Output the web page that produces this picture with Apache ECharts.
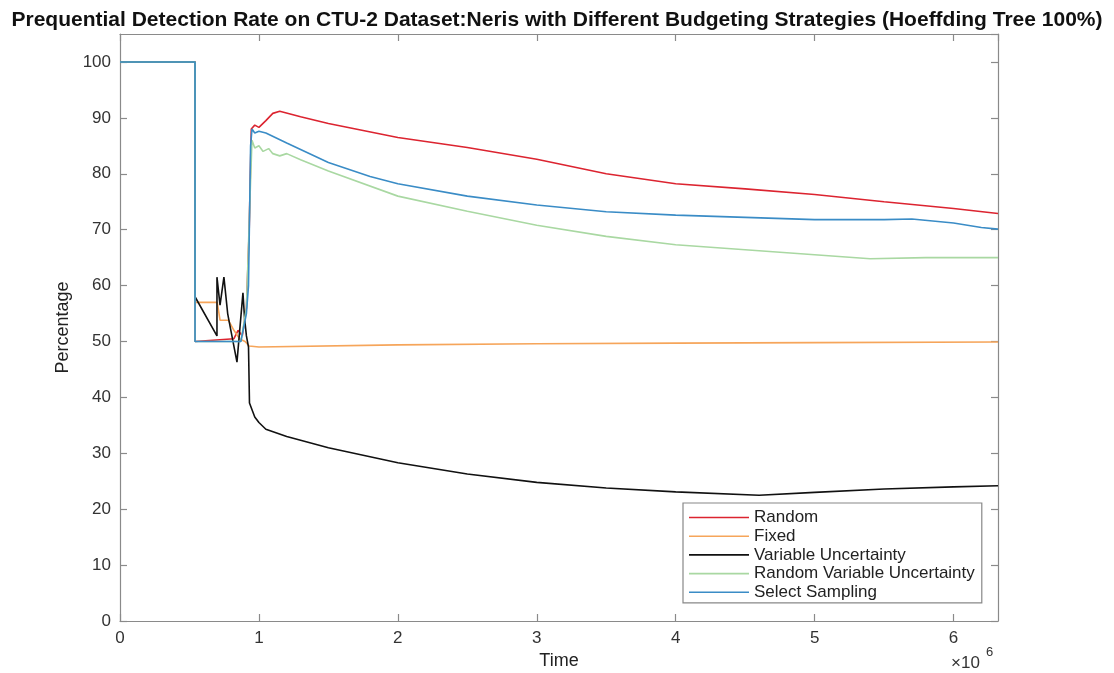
<!DOCTYPE html>
<html>
<head>
<meta charset="utf-8">
<script src="https://cdn.jsdelivr.net/npm/echarts@6/dist/echarts.min.js"></script>
<style>
  html, body { margin: 0; padding: 0; background: #fff; }
  #chart { width: 1114px; height: 673px; }
</style>
</head>
<body>
<div id="chart"></div>
<script>
// Time values are in millions of samples; rates are percentages.
const TIME_UNIT = 1e6;
const TIME_MAX = 6.32;

const seriesNames = ['Random', 'Fixed', 'Variable Uncertainty', 'Random Variable Uncertainty', 'Select Sampling'];

const randomPts = [
  [0, 100], [0.54, 100], [0.54, 50], [0.82, 50.5], [0.85, 52], [0.88, 51], [0.91, 56],
  [0.93, 70], [0.945, 88], [0.97, 88.7], [1.0, 88.3], [1.05, 89.5], [1.1, 90.8],
  [1.15, 91.2], [1.3, 90.2], [1.5, 89], [2.0, 86.5], [2.5, 84.7], [3.0, 82.6],
  [3.5, 80], [4.0, 78.2], [4.5, 77.3], [5.0, 76.3], [5.5, 75], [6.0, 73.8], [6.32, 72.9]
];

const fixedPts = [
  [0, 100], [0.54, 100], [0.54, 57], [0.7, 57], [0.72, 53.8], [0.78, 53.8], [0.82, 52],
  [0.86, 50.5], [0.9, 50], [0.93, 49.2], [1.0, 49.0], [2.0, 49.4], [3.0, 49.6],
  [4.0, 49.7], [5.0, 49.8], [6.32, 49.9]
];

const varUncertaintyPts = [
  [0, 100], [0.54, 100], [0.54, 58], [0.698, 51], [0.698, 61.5], [0.72, 56.5], [0.748, 61.5],
  [0.775, 55], [0.8, 51.7], [0.842, 46.3], [0.885, 58.7], [0.897, 54], [0.91, 51],
  [0.925, 49], [0.932, 39], [0.97, 36.5], [1.0, 35.5], [1.05, 34.3], [1.2, 33],
  [1.5, 31], [2.0, 28.3], [2.5, 26.3], [3.0, 24.8], [3.5, 23.8], [4.0, 23.1],
  [4.6, 22.5], [5.0, 23], [5.5, 23.6], [6.0, 24], [6.32, 24.2]
];

const randomVarUncertaintyPts = [
  [0, 100], [0.54, 100], [0.54, 50], [0.87, 50], [0.91, 56], [0.935, 75], [0.95, 86],
  [0.97, 84.6], [1.0, 85], [1.03, 84], [1.07, 84.5], [1.1, 83.6], [1.15, 83.2],
  [1.2, 83.6], [1.3, 82.5], [1.5, 80.5], [2.0, 76], [2.5, 73.3], [3.0, 70.8],
  [3.5, 68.8], [4.0, 67.3], [4.5, 66.4], [5.0, 65.5], [5.4, 64.8], [5.8, 65], [6.32, 65]
];

const selectSamplingPts = [
  [0, 100], [0.54, 100], [0.54, 50], [0.87, 50], [0.91, 55], [0.925, 60], [0.94, 85],
  [0.95, 88], [0.97, 87.3], [1.0, 87.6], [1.05, 87.3], [1.2, 85.5], [1.5, 82],
  [1.8, 79.5], [2.0, 78.2], [2.5, 76], [3.0, 74.4], [3.5, 73.2], [4.0, 72.6],
  [4.5, 72.2], [5.0, 71.8], [5.5, 71.8], [5.7, 71.9], [6.0, 71.2], [6.2, 70.4], [6.32, 70.1]
];

const seriesPoints = [randomPts, fixedPts, varUncertaintyPts, randomVarUncertaintyPts, selectSamplingPts];
const seriesColors = ['#dc2430', '#f6a55a', '#111111', '#a9d8a2', '#3a8cc6'];

const FONT = '"Liberation Sans", Arial, Helvetica, sans-serif';
const AXIS_COLOR = '#8a8a8a';

const chart = echarts.init(document.getElementById('chart'), null, { renderer: 'canvas' });

function frameAxis(extra) {
  return Object.assign({
    type: 'value',
    axisLine: { show: true, onZero: false, lineStyle: { color: AXIS_COLOR, width: 1.2 } },
    axisTick: { show: true, inside: true, length: 7, lineStyle: { color: AXIS_COLOR, width: 1.2 } },
    splitLine: { show: false }
  }, extra);
}

const option = {
  backgroundColor: '#ffffff',
  animation: false,
  title: {
    text: 'Prequential Detection Rate on CTU-2 Dataset:Neris with Different Budgeting Strategies (Hoeffding Tree 100%)',
    left: 'center',
    top: 5,
    textStyle: { fontFamily: FONT, fontSize: 21, fontWeight: 'bold', color: '#111' }
  },
  grid: { left: 120, right: 116, top: 34, bottom: 52, containLabel: false, outerBoundsMode: 'none' },
  legend: {
    data: seriesNames,
    orient: 'vertical',
    left: 683,
    top: 503,
    padding: [6, 7, 2, 6],
    icon: 'rect',
    itemWidth: 60,
    itemHeight: 1.6,
    itemGap: 1.7,
    borderColor: '#888',
    borderWidth: 1.2,
    backgroundColor: '#fff',
    textStyle: { fontFamily: FONT, fontSize: 17, color: '#222', lineHeight: 16, height: 16 }
  },
  xAxis: [
    frameAxis({
      position: 'bottom',
      min: 0, max: TIME_MAX * TIME_UNIT, interval: TIME_UNIT,
      axisLabel: {
        show: true, margin: 9, showMaxLabel: false,
        fontFamily: FONT, fontSize: 17, color: '#333',
        formatter: v => (v % TIME_UNIT === 0 ? String(v / TIME_UNIT) : '')
      },
      name: 'Time', nameLocation: 'middle', nameGap: 31,
      nameTextStyle: { fontFamily: FONT, fontSize: 18, color: '#222' }
    }),
    frameAxis({
      position: 'top',
      min: 0, max: TIME_MAX * TIME_UNIT, interval: TIME_UNIT,
      axisLabel: { show: false }
    })
  ],
  yAxis: [
    frameAxis({
      position: 'left',
      min: 0, max: 105, interval: 10,
      axisLabel: {
        show: true, margin: 9, showMaxLabel: false,
        fontFamily: FONT, fontSize: 17, color: '#333',
        formatter: v => (v % 10 === 0 ? String(v) : '')
      },
      name: 'Percentage', nameLocation: 'middle', nameGap: 47, nameRotate: 90,
      nameTextStyle: { fontFamily: FONT, fontSize: 18, color: '#222' }
    }),
    frameAxis({
      position: 'right',
      min: 0, max: 105, interval: 10,
      axisLabel: { show: false }
    })
  ],
  graphic: [
    {
      type: 'text', left: 951, top: 655,
      style: { text: '×10', fontFamily: FONT, fontSize: 17, fill: '#333' }
    },
    {
      type: 'text', left: 986, top: 646,
      style: { text: '6', fontFamily: FONT, fontSize: 13, fill: '#333' }
    }
  ],
  series: seriesNames.map((name, i) => ({
    name,
    type: 'line',
    xAxisIndex: 0,
    yAxisIndex: 0,
    data: seriesPoints[i].map(([t, v]) => [t * TIME_UNIT, v]),
    symbol: 'none',
    smooth: false,
    color: seriesColors[i],
    lineStyle: { color: seriesColors[i], width: 1.6 },
    z: 2 + i
  }))
};

chart.setOption(option);
</script>
</body>
</html>
